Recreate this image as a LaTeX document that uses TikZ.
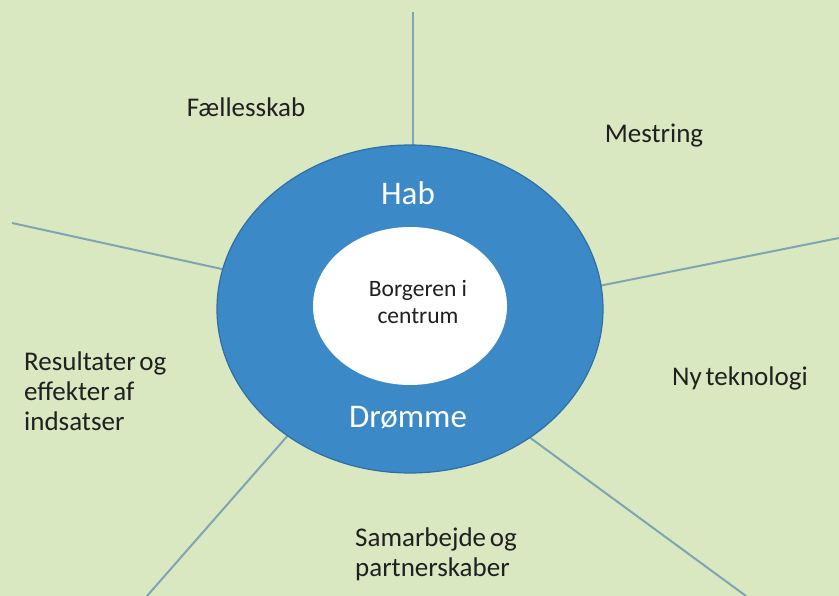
\documentclass[tikz,border=0pt]{standalone}
\usepackage{fontspec}
\setmainfont{Carlito}[WordSpace=0.6]
\newfontfamily\centrefont{Carlito}
\usetikzlibrary{
arrows.meta,
positioning,
shapes.geometric
}
\definecolor{bggreen}{HTML}{D9E8C1}
\definecolor{hubblue}{HTML}{3C89C8}
\definecolor{hubedge}{HTML}{2F6FA6}
\definecolor{spoke}{HTML}{7FA5B2}
\definecolor{txt}{HTML}{202020}
\tikzset{
  spokeline/.style={draw=spoke, line width=2pt},
  label text/.style={text=txt, font=\fontsize{27}{30}\selectfont, inner sep=0pt},
  ring text/.style={text=white, font=\fontsize{33}{38}\selectfont, inner sep=0pt}
}

\begin{document}
\begin{tikzpicture}[x=1pt,y=-1pt]
		\useasboundingbox[fill=bggreen] (0,0) rectangle (839,596);
		
		% spokes first, hub drawn over them
		\coordinate (ctr) at (410,309);
		\node[ellipse, minimum width=386pt, minimum height=328pt, inner sep=0pt] (hubarea) at (ctr) {};
		\coordinate (topend) at (413,12);
		\coordinate (leftend) at (12,223);
		\coordinate (rightend) at (839,238);
		\coordinate (blend) at (147,596);
		\coordinate (brend) at (746,596);
		\draw[spokeline] (hubarea.north -| topend) -- (topend);
		\draw[spokeline] (hubarea.168.8) -- (leftend);
		\draw[spokeline] (hubarea.7.6) -- (rightend);
		\draw[spokeline] (hubarea.226.8) -- (blend);
		\draw[spokeline] (hubarea.313.4) -- (brend);
		
		\node[ellipse, draw=hubedge, line width=1.2pt, fill=hubblue, minimum width=386pt, minimum height=328pt, inner sep=0pt] (hub) at (ctr) {};
		\node[ellipse, fill=white, minimum width=194pt, minimum height=158pt, inner sep=0pt] (citizen) at (410,306) {};
		\node[text=txt, font=\centrefont\fontsize{23.5}{27}\selectfont, align=center, inner sep=0pt] (citizentxt) at (418,302) {Borgeren i\\centrum};
		
		\node[ring text] (hab) at (408,193) {Hab};
		\node[ring text] (dreams) at (408,418) {Drømme};
		
		\node[label text] (community) at (246,107) {Fællesskab};
		\node[label text] (mastery) at (654,136) {Mestring};
		\node[label text] (technology) at (740,378) {Ny teknologi};
		\node[label text, align=left, anchor=west] (results) at (24,391) {Resultater og\\effekter af\\indsatser};
		\node[label text, align=left, anchor=west] (partners) at (355,554) {Samarbejde og\\partnerskaber};
\end{tikzpicture}
\end{document}
